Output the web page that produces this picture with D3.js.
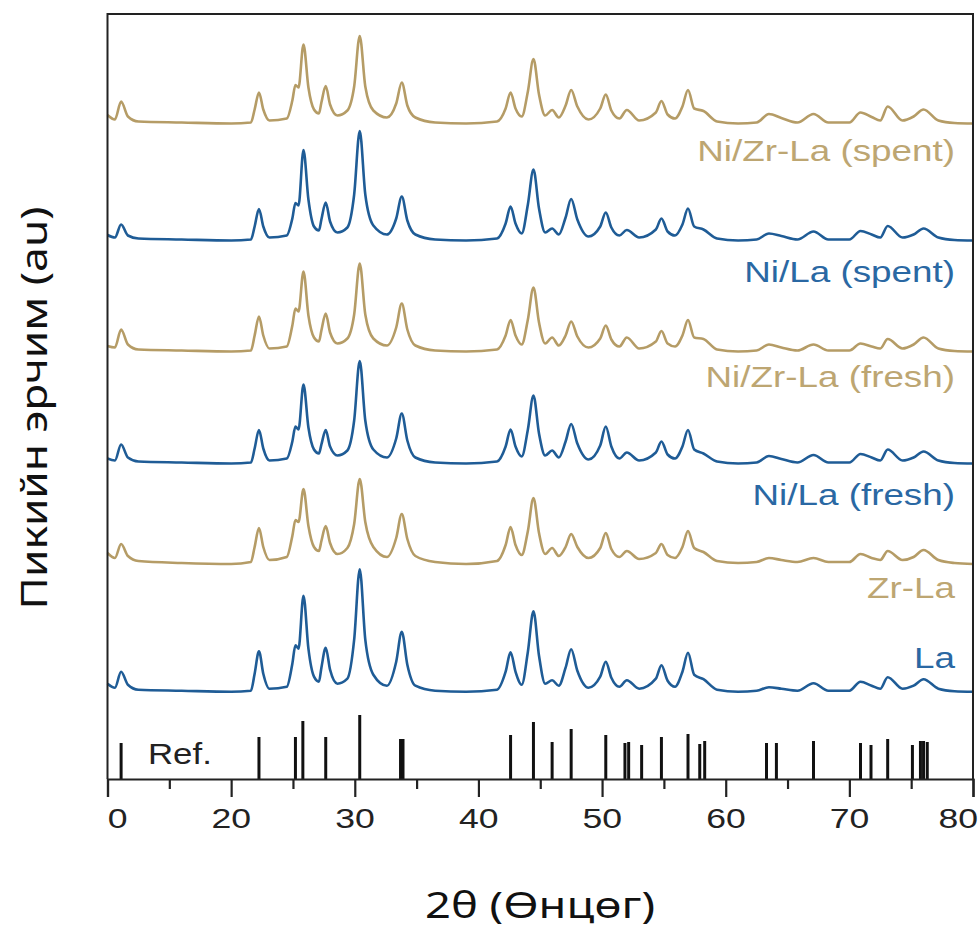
<!DOCTYPE html>
<html><head><meta charset="utf-8">
<script src="https://cdn.jsdelivr.net/npm/d3@7"></script>
<style>body{margin:0;background:#fff}svg{display:block}</style>
</head><body><svg id="chart" width="980" height="928"></svg>
<script>
// ---------- DATA ----------
const twoTheta = [10.0,10.6,11.1,11.65,12.5,16.0,20.0,21.6,21.9,22.25,22.6,23.1,24.5,24.95,25.2,25.45,25.85,26.25,26.7,27.1,27.3,27.65,28.0,28.6,29.4,29.95,30.4,30.85,31.5,32.6,33.35,33.8,34.25,34.9,36.5,39.0,41.5,42.2,42.6,43.0,43.5,44.0,44.45,44.9,45.4,45.96,46.5,47.05,47.5,48.0,48.9,49.85,50.3,50.75,51.4,52.0,53.0,54.35,54.8,55.3,55.9,56.5,56.95,57.45,58.2,59.3,61.0,62.5,63.5,64.5,65.8,67.1,68.3,70.0,70.9,71.8,72.5,73.1,74.3,75.2,76.0,77.2,78.5,80.0];

const seriesNames = ["Ni/Zr-La (spent)","Ni/La (spent)","Ni/Zr-La (fresh)","Ni/La (fresh)","Zr-La","La"];
const seriesOffsets = [655.5, 538.5, 427.5, 315.5, 215, 87.3];
const seriesColors = ["#b59c66","#1f5c96","#b59c66","#1f5c96","#b59c66","#1f5c96"];
const labelColors = ["#bda672","#2a68a3","#bda672","#2a68a3","#bda672","#2a68a3"];
const labelBaselines = [161, 282, 387, 505, 598, 668];

const niZrLaSpent = [8.5,4,22,7,2,1,0,1,14,31,14,3,5,23,38.5,36,79,36,14,10,21,37.5,19,8,13,37,87.5,37,13,6,20,41,18,6,1,0,2,15,31,15,7,32,64.5,29,8,13.5,6,18,33.5,17,4,15,29,13,5,13.5,3,11,22.5,9,5,17,33.5,15,12.5,2,0,1,9.5,5.5,1,9.5,1,1,11,6.5,3,17,3,7,14,3,0.5,0];
const niLaSpent = [5.5,3,16,5,2,1,0,1,14,31.5,14,3,5,22,37.5,35,90.5,41,14,10,21,38,19,8,13,46,109.5,46,15,6,22,44,20,6,1,0,2,17,34,17,7,36,71,32,8,12,6,23,41.5,21,4,14,28,13,5,10.5,3,11,22,9,5,16,32,14,11,2,0,1,7,4.5,1,9,1,1,9.5,6,3,14.5,3,6,12,3,0.5,0];
const niZrLaFresh = [5.5,4,22,7,2,1,0,1,16,35,16,3,5,26,43,40,80,36,14,10,21,38,19,8,13,37,88,37,13,6,24,48,22,6,1,0,2,16,31.5,16,7,32,64,29,8,14,6,16,30,15,4,13,26,12,5,14,3,10,20.5,8,5,16,31.5,14,12.5,2,0,1,7,4,1,7,1,1,8,5,3,12.5,3,7,14,3,0.5,0];
const niLaFresh = [5,3,19,6,2,1,0,1,15,33.5,15,3,5,22,37,34,79,36,14,10,19,33.5,17,8,13,43,102.5,43,14,6,25,50,23,6,1,0,2,17,34,17,7,34,68,30,8,13,6,22,39.5,20,4,18,37,17,5,11,3,11,22,9,5,17,33.5,14,10,2,0,1,7.5,4.5,1,8.5,1,1,9.5,6,3,14,3,6,12,3,0.5,0];
const zrLa = [11,6,20,8,3,1,0,2,17,36,17,4,7,28,44,42,75,38,17,13,23,38,21,10,16,40,85,42,17,7,26,50,25,8,2,0,3,19,37,19,9,33,66,31,10,16,8,17,30,17,6,16,31,15,7,13,5,11,20,9,6,17,33,16,12,3,1,2,6,4,2,6,2,2,10,6,4,13,4,7,14,4,1,0];
const la = [8,4,20,7,2,1,0,1,18,40.5,18,3,5,28,46.5,43,96,43,15,10,24,44,22,8,13,52,122.5,52,17,6,30,60,27,6,1,0,2,20,39.5,20,7,40,80.5,36,8,11.5,6,24,42.5,21,4,15,30,14,5,11.5,3,13,26.5,11,5,20,39,17,12.5,2,0,1,4.5,3,1,8.5,1,1,10,6,3,14.5,3,6,12.5,3,0.5,0];
const seriesValues = [niZrLaSpent, niLaSpent, niZrLaFresh, niLaFresh, zrLa, la];

const refPositions = [11.1,22.25,25.2,25.8,27.65,30.4,33.7,33.9,42.6,44.45,45.96,47.5,50.3,51.85,52.15,53.2,54.8,56.95,57.9,58.3,63.3,64.1,67.1,70.9,71.75,73.1,75.1,75.75,76.0,76.3];
const refIntensities = [36,42,42,58,42,64,40,40,44,57,37,50,44,36,37,34,42,45,35,38,36,36,38,36,34,40,34,38,38,37];

const xMajorTicks = [10,20,30,40,50,60,70,80];
const xTickLabels = ["0","20","30","40","50","60","70","80"];
const xMinorTicks = [15,25,35,45,55,65,75];

// ---------- LAYOUT ----------
const plotL = 107.5, plotR = 973, plotT = 14, plotB = 779;
const stretch = 1.27;

const svg = d3.select("#chart");
const x = d3.scaleLinear().domain([10, 80]).range([plotL, plotR]);
const y = d3.scaleLinear().domain([0, plotB - plotT]).range([plotB, plotT]);

// traces
const line = d3.line().curve(d3.curveMonotoneX);
seriesValues.forEach((vals, i) => {
  const pts = twoTheta.map((t, j) => [x(t), y(seriesOffsets[i] + vals[j])]);
  svg.append("path").attr("d", line(pts))
    .attr("fill", "none").attr("stroke", seriesColors[i])
    .attr("stroke-width", 2.6).attr("stroke-linejoin", "round");
});

// series labels
seriesNames.forEach((n, i) => {
  svg.append("text")
    .attr("transform", `translate(955,${labelBaselines[i]}) scale(${stretch},1)`)
    .attr("text-anchor", "end")
    .attr("font-family", "Liberation Sans, Arial, sans-serif")
    .attr("font-size", 29)
    .attr("fill", labelColors[i])
    .text(n);
});

// reference sticks
svg.append("g").selectAll("line").data(refPositions).join("line")
  .attr("x1", d => x(d)).attr("x2", d => x(d))
  .attr("y1", y(0)).attr("y2", (d, i) => y(refIntensities[i]))
  .attr("stroke", "#111").attr("stroke-width", 3);

svg.append("text")
  .attr("transform", `translate(148,764) scale(1.2,1)`)
  .attr("font-family", "Liberation Sans, Arial, sans-serif")
  .attr("font-size", 29).attr("fill", "#222").text("Ref.");

// frame
svg.append("path")
  .attr("d", `M${plotL},${plotB}V${plotT}H${plotR}V${plotB}`)
  .attr("fill", "none").attr("stroke", "#222").attr("stroke-width", 2);

// x axis
const xAxis = d3.axisBottom(x).tickValues(xMajorTicks).tickSize(18).tickFormat("");
const gx = svg.append("g").attr("transform", `translate(0,${plotB})`).call(xAxis);
gx.select(".domain").attr("stroke", "#222").attr("stroke-width", 2.2);
gx.selectAll(".tick line").attr("stroke", "#222").attr("stroke-width", 2.2);
const xMinor = d3.axisBottom(x).tickValues(xMinorTicks).tickSize(10).tickFormat("");
const gm = svg.append("g").attr("transform", `translate(0,${plotB})`).call(xMinor);
gm.select(".domain").remove();
gm.selectAll(".tick line").attr("stroke", "#222").attr("stroke-width", 2.2);

xMajorTicks.forEach((v, i) => {
  const xe = Math.min(x(v) + 20, 978);
  svg.append("text")
    .attr("transform", `translate(${xe},828) scale(${stretch},1)`)
    .attr("text-anchor", "end")
    .attr("font-family", "Liberation Sans, Arial, sans-serif")
    .attr("font-size", 28).attr("fill", "#222")
    .text(xTickLabels[i]);
});

// axis titles
svg.append("text")
  .attr("x", 540).attr("y", 918)
  .attr("text-anchor", "middle")
  .attr("font-family", "Noto Sans, DejaVu Sans, sans-serif")
  .attr("font-size", 36).attr("fill", "#111")
  .attr("textLength", 230).attr("lengthAdjust", "spacingAndGlyphs")
  .text("2θ (Өнцөг)");

svg.append("text")
  .attr("transform", "translate(47,408) rotate(-90)")
  .attr("text-anchor", "middle")
  .attr("font-family", "Noto Sans, DejaVu Sans, sans-serif")
  .attr("font-size", 36).attr("fill", "#111")
  .attr("textLength", 403).attr("lengthAdjust", "spacingAndGlyphs")
  .text("Пикийн эрчим (au)");
</script></body></html>
